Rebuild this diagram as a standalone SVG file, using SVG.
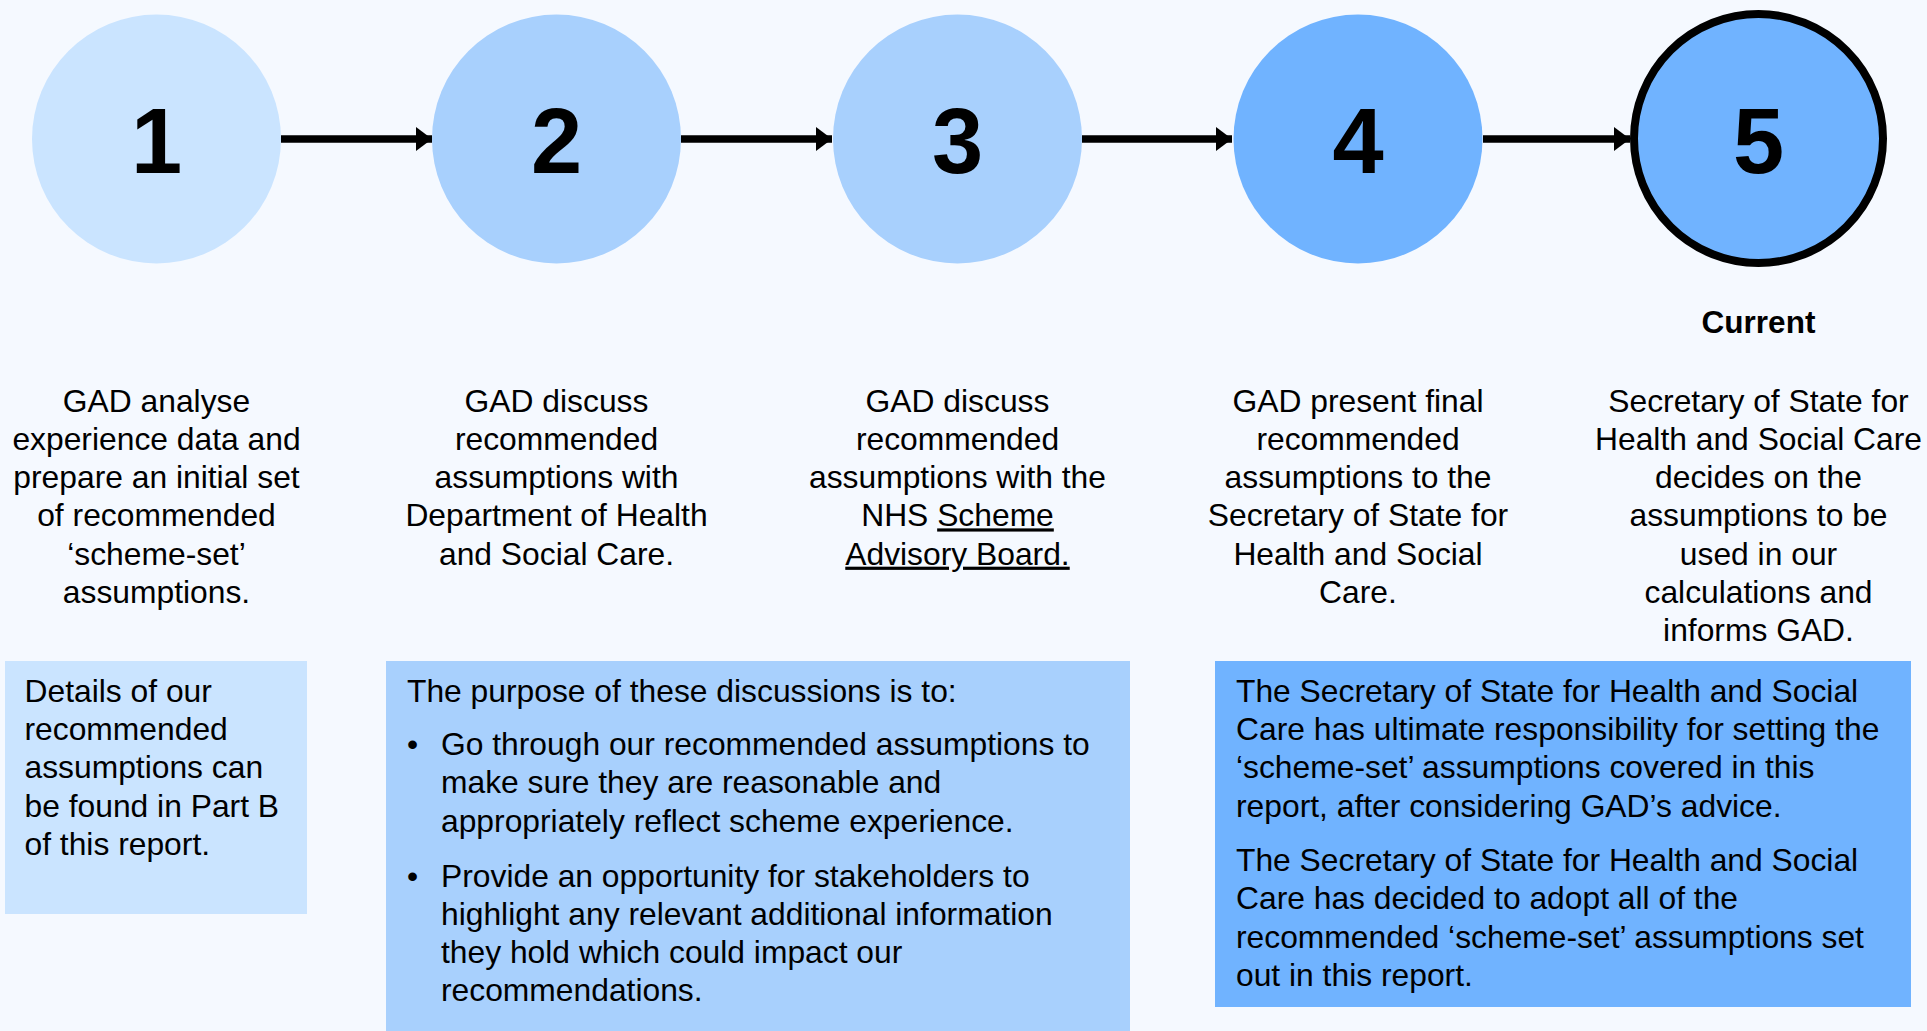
<svg xmlns="http://www.w3.org/2000/svg" width="1927" height="1031" viewBox="0 0 1927 1031">
  <defs>
    <style>
      .t { font-family: "Liberation Sans", Arial, sans-serif; font-size: 31.8px; fill: #000; }
      .c { text-anchor: middle; }
      .num { font-family: "Liberation Sans", Arial, sans-serif; font-size: 92px; font-weight: bold; text-anchor: middle; fill: #000; }
      .cur { font-family: "Liberation Sans", Arial, sans-serif; font-size: 31.5px; font-weight: bold; text-anchor: middle; fill: #000; }
      .conn { stroke: #000; stroke-width: 7.5; fill: none; }
      .u { text-decoration: underline; }
    </style>
    <marker id="ah" markerUnits="userSpaceOnUse" markerWidth="18" markerHeight="26" refX="16" refY="12" orient="auto">
      <path d="M0,0 L16,12 L0,24 Z" fill="#000"/>
    </marker>
  </defs>
  <rect x="0" y="0" width="1927" height="1031" fill="#F5F9FF"/>

  <g id="connectors">
    <line class="conn" x1="281" y1="139" x2="432" y2="139" marker-end="url(#ah)"/>
    <line class="conn" x1="681" y1="139" x2="832" y2="139" marker-end="url(#ah)"/>
    <line class="conn" x1="1082" y1="139" x2="1232" y2="139" marker-end="url(#ah)"/>
    <line class="conn" x1="1483" y1="139" x2="1630" y2="139" marker-end="url(#ah)"/>
  </g>

  <g id="node1">
    <circle cx="156.5" cy="139" r="124.5" fill="#CAE4FF"/>
    <text class="num" x="156.5" y="173">1</text>
    <text class="t c" x="156.5" y="411.5">GAD analyse</text>
    <text class="t c" x="156.5" y="449.8">experience data and</text>
    <text class="t c" x="156.5" y="488.1">prepare an initial set</text>
    <text class="t c" x="156.5" y="526.4">of recommended</text>
    <text class="t c" x="156.5" y="564.7">‘scheme-set’</text>
    <text class="t c" x="156.5" y="603">assumptions.</text>
  </g>

  <g id="node2">
    <circle cx="556.5" cy="139" r="124.5" fill="#A8D0FD"/>
    <text class="num" x="556.5" y="173">2</text>
    <text class="t c" x="556.5" y="411.5">GAD discuss</text>
    <text class="t c" x="556.5" y="449.8">recommended</text>
    <text class="t c" x="556.5" y="488.1">assumptions with</text>
    <text class="t c" x="556.5" y="526.4">Department of Health</text>
    <text class="t c" x="556.5" y="564.7">and Social Care.</text>
  </g>

  <g id="node3">
    <circle cx="957.5" cy="139" r="124.5" fill="#A8D0FD"/>
    <text class="num" x="957.5" y="173">3</text>
    <text class="t c" x="957.5" y="411.5">GAD discuss</text>
    <text class="t c" x="957.5" y="449.8">recommended</text>
    <text class="t c" x="957.5" y="488.1">assumptions with the</text>
    <text class="t c" x="957.5" y="526.4">NHS <tspan class="u">Scheme</tspan></text>
    <text class="t c u" x="957.5" y="564.7">Advisory Board.</text>
  </g>

  <g id="node4">
    <circle cx="1358" cy="139" r="124.5" fill="#70B3FF"/>
    <text class="num" x="1358" y="173">4</text>
    <text class="t c" x="1358" y="411.5">GAD present final</text>
    <text class="t c" x="1358" y="449.8">recommended</text>
    <text class="t c" x="1358" y="488.1">assumptions to the</text>
    <text class="t c" x="1358" y="526.4">Secretary of State for</text>
    <text class="t c" x="1358" y="564.7">Health and Social</text>
    <text class="t c" x="1358" y="603">Care.</text>
  </g>

  <g id="node5">
    <circle cx="1758.5" cy="138.5" r="124.5" fill="#70B3FF" stroke="#000" stroke-width="8"/>
    <text class="num" x="1758.5" y="173">5</text>
    <text class="cur" x="1758.5" y="333">Current</text>
    <text class="t c" x="1758.5" y="411.5">Secretary of State for</text>
    <text class="t c" x="1758.5" y="449.8">Health and Social Care</text>
    <text class="t c" x="1758.5" y="488.1">decides on the</text>
    <text class="t c" x="1758.5" y="526.4">assumptions to be</text>
    <text class="t c" x="1758.5" y="564.7">used in our</text>
    <text class="t c" x="1758.5" y="603">calculations and</text>
    <text class="t c" x="1758.5" y="641.3">informs GAD.</text>
  </g>

  <g id="box1">
    <rect x="5" y="661" width="302" height="253" fill="#CAE4FF"/>
    <text class="t" x="24.5" y="701.7">Details of our</text>
    <text class="t" x="24.5" y="740">recommended</text>
    <text class="t" x="24.5" y="778.3">assumptions can</text>
    <text class="t" x="24.5" y="816.6">be found in Part B</text>
    <text class="t" x="24.5" y="854.9">of this report.</text>
  </g>

  <g id="box2">
    <rect x="386" y="661" width="744" height="370" fill="#A8D0FD"/>
    <text class="t" x="407" y="701.7">The purpose of these discussions is to:</text>
    <text class="t" x="407" y="755">•</text>
    <text class="t" x="441" y="755">Go through our recommended assumptions to</text>
    <text class="t" x="441" y="793.3">make sure they are reasonable and</text>
    <text class="t" x="441" y="831.6">appropriately reflect scheme experience.</text>
    <text class="t" x="407" y="886.5">•</text>
    <text class="t" x="441" y="886.5">Provide an opportunity for stakeholders to</text>
    <text class="t" x="441" y="924.8">highlight any relevant additional information</text>
    <text class="t" x="441" y="963.1">they hold which could impact our</text>
    <text class="t" x="441" y="1001.4">recommendations.</text>
  </g>

  <g id="box3">
    <rect x="1215" y="661" width="696" height="346" fill="#70B3FF"/>
    <text class="t" x="1236" y="701.7">The Secretary of State for Health and Social</text>
    <text class="t" x="1236" y="740">Care has ultimate responsibility for setting the</text>
    <text class="t" x="1236" y="778.3">‘scheme-set’ assumptions covered in this</text>
    <text class="t" x="1236" y="816.6">report, after considering GAD’s advice.</text>
    <text class="t" x="1236" y="871">The Secretary of State for Health and Social</text>
    <text class="t" x="1236" y="909.3">Care has decided to adopt all of the</text>
    <text class="t" x="1236" y="947.6">recommended ‘scheme-set’ assumptions set</text>
    <text class="t" x="1236" y="985.9">out in this report.</text>
  </g>
</svg>
